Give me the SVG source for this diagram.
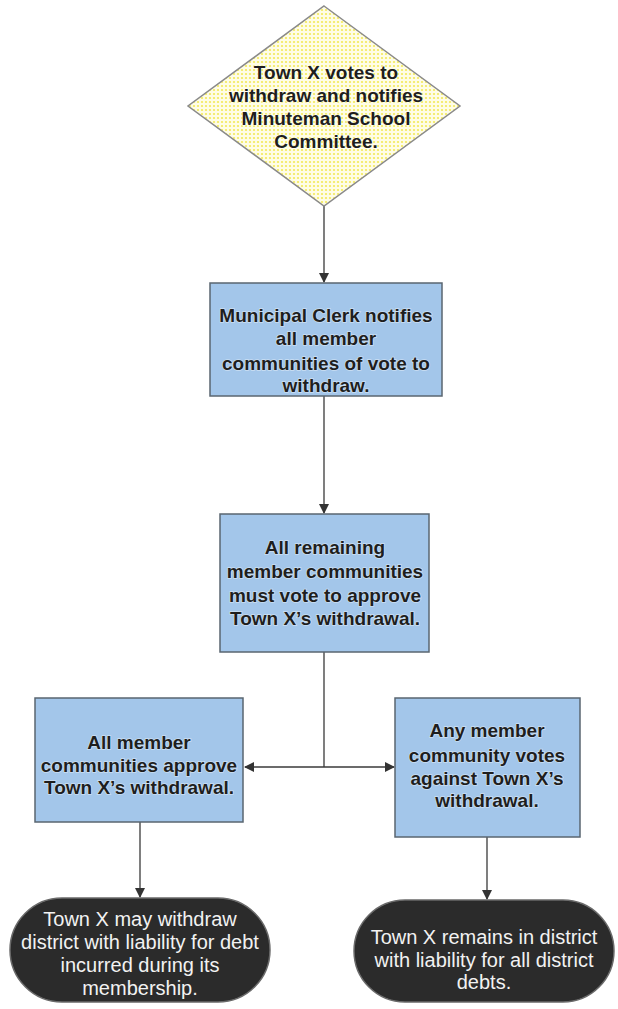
<svg xmlns="http://www.w3.org/2000/svg" width="618" height="1009" viewBox="0 0 618 1009">
<style>
.box{fill:#a3c6ea;stroke:#5a6670;stroke-width:1.5}
.oval{fill:#2b2b2b;stroke:#6a6a6a;stroke-width:1.5}
.t{font-family:"Liberation Sans",Arial,sans-serif;font-size:19px;font-weight:bold;fill:#1e1e1e;text-anchor:middle;stroke:#ffffff;stroke-opacity:0.45;stroke-width:1.5;paint-order:stroke}
.w{font-family:"Liberation Sans",Arial,sans-serif;font-size:20px;fill:#f2f2f2;text-anchor:middle}
.c{stroke:#3a3a3a;stroke-width:1.3;fill:none}
</style>
<defs>
<pattern id="dots" width="4" height="4" patternUnits="userSpaceOnUse">
<rect width="4" height="4" fill="#fffde6"/>
<circle cx="2" cy="2" r="1.1" fill="#f3ea5a"/>
</pattern>
<marker id="ah" markerWidth="10" markerHeight="10" refX="9" refY="5" orient="auto" markerUnits="userSpaceOnUse">
<path d="M0,0 L10,5 L0,10 Z" fill="#333"/>
</marker>
</defs>
<rect width="618" height="1009" fill="#ffffff"/>
<g id="connectors">
<line class="c" x1="324" y1="206" x2="324" y2="282" marker-end="url(#ah)"/>
<line class="c" x1="324" y1="396" x2="324" y2="513" marker-end="url(#ah)"/>
<polyline class="c" points="324,652 324,767"/>
<line class="c" x1="324" y1="767" x2="245" y2="767" marker-end="url(#ah)"/>
<line class="c" x1="324" y1="767" x2="394" y2="767" marker-end="url(#ah)"/>
<line class="c" x1="140" y1="822" x2="140" y2="897" marker-end="url(#ah)"/>
<line class="c" x1="487" y1="837" x2="487" y2="899" marker-end="url(#ah)"/>
</g>
<g id="start">
<polygon points="324,6 460,106 324,206 188,106" fill="url(#dots)" stroke="#8a8a8a" stroke-width="1.5"/>
<text class="t" x="326" y="79">Town X votes to</text>
<text class="t" x="326" y="102">withdraw and notifies</text>
<text class="t" x="326" y="125">Minuteman School</text>
<text class="t" x="326" y="148">Committee.</text>
</g>
<g id="clerk">
<rect class="box" x="210" y="283" width="232" height="113"/>
<text class="t" x="326" y="322">Municipal Clerk notifies</text>
<text class="t" x="326" y="345">all member</text>
<text class="t" x="326" y="370">communities of vote to</text>
<text class="t" x="326" y="392">withdraw.</text>
</g>
<g id="vote">
<rect class="box" x="220" y="514" width="209" height="138"/>
<text class="t" x="325" y="554">All remaining</text>
<text class="t" x="325" y="578">member communities</text>
<text class="t" x="325" y="602">must vote to approve</text>
<text class="t" x="325" y="625">Town X’s withdrawal.</text>
</g>
<g id="approve">
<rect class="box" x="35" y="698" width="208" height="124"/>
<text class="t" x="139" y="749">All member</text>
<text class="t" x="139" y="772">communities approve</text>
<text class="t" x="139" y="794">Town X’s withdrawal.</text>
</g>
<g id="against">
<rect class="box" x="395" y="698" width="185" height="139"/>
<text class="t" x="487" y="737">Any member</text>
<text class="t" x="487" y="762">community votes</text>
<text class="t" x="487" y="785">against Town X’s</text>
<text class="t" x="487" y="807">withdrawal.</text>
</g>
<g id="withdraw">
<rect class="oval" x="10" y="898" width="260" height="104" rx="52" ry="52"/>
<text class="w" x="140" y="926">Town X may withdraw</text>
<text class="w" x="140" y="949">district with liability for debt</text>
<text class="w" x="140" y="972">incurred during its</text>
<text class="w" x="140" y="995">membership.</text>
</g>
<g id="remain">
<rect class="oval" x="354" y="900" width="260" height="102" rx="51" ry="51"/>
<text class="w" x="484" y="944">Town X remains in district</text>
<text class="w" x="484" y="967">with liability for all district</text>
<text class="w" x="484" y="989">debts.</text>
</g>
</svg>
